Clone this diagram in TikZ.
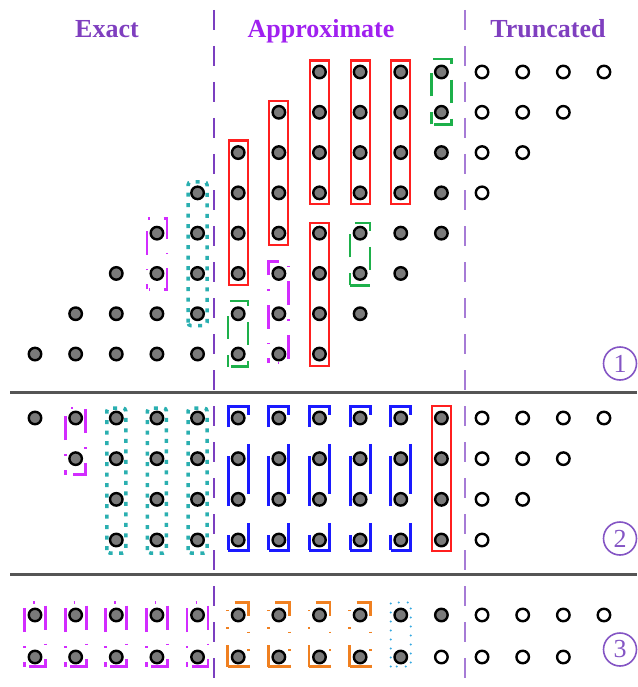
\documentclass[tikz,border=0pt]{standalone}
\usepackage{fontspec}
\setmainfont{Liberation Serif}
\usetikzlibrary{calc}
\definecolor{hdrA}{HTML}{7F3FBF}
\definecolor{hdrB}{HTML}{A020F0}
\definecolor{vlineA}{HTML}{7B3FC0}
\definecolor{vlineB}{HTML}{A67BD6}
\definecolor{sepgray}{HTML}{555555}
\definecolor{dotgray}{HTML}{7A7A7A}
\definecolor{bred}{HTML}{FF1F1F}
\definecolor{bgreen}{HTML}{1DB04A}
\definecolor{bmag}{HTML}{D22CFF}
\definecolor{bteal}{HTML}{2AAFB0}
\definecolor{bblue}{HTML}{1A1AFF}
\definecolor{borange}{HTML}{F08020}
\definecolor{bsky}{HTML}{35A8E0}
\definecolor{numpurple}{HTML}{8455C4}
\tikzset{
 gdot/.style={circle, draw=black, fill=dotgray, line width=2.4pt, minimum size=12.5pt, inner sep=0pt},
 hdot/.style={circle, draw=black, fill=white, line width=2.4pt, minimum size=12.5pt, inner sep=0pt},
 redbox/.style={draw=bred, line width=2.2pt},
 greenbox/.style={draw=bgreen, line width=2.5pt, dash pattern=on 23pt off 16pt, dash phase=11pt},
 magbox/.style={draw=bmag, line width=2.8pt, dash pattern=on 24pt off 14pt on 1.5pt off 14pt, dash phase=19pt},
 tealbox/.style={draw=bteal, line width=3.5pt, dash pattern=on 4pt off 6.5pt, rounded corners=3pt},
 bluebox/.style={draw=bblue, line width=3pt, dash pattern=on 50pt off 29pt, dash phase=35pt},
 orangebox/.style={draw=borange, line width=2.8pt, dash pattern=on 27pt off 16pt on 1.5pt off 16pt on 1.5pt off 14pt, dash phase=5pt},
 skybox/.style={draw=bsky, line width=2.4pt, line cap=round, dash pattern=on 0pt off 9pt},
 hdr/.style={font=\fontsize{26}{26}\selectfont\bfseries, anchor=base, inner sep=0pt},
 sepline/.style={draw=sepgray, line width=3pt},
 vdash/.style={line width=2.5pt, dash pattern=on 20pt off 16pt},
 cnum/.style={circle, draw=numpurple, text=numpurple, line width=1.6pt, minimum size=33pt, inner sep=0pt, font=\fontsize{26}{26}\selectfont},
}
% #1 style, #2 top node, #3 bottom node, #4 half width, #5 top pad, #6 bottom pad
\newcommand\colbox[6]{%
 \draw[#1] ($(#3.center)+(-#4,#6)$) -- ($(#2.center)+(-#4,-#5)$) -- ($(#2.center)+(#4,-#5)$) -- ($(#3.center)+(#4,#6)$) -- cycle;}
\begin{document}
\begin{tikzpicture}[x=1pt,y=-1pt]
\useasboundingbox (0,0) rectangle (637,687);
% headers
\node[hdr, text=hdrA] (hexact) at (107,38) {Exact};
\node[hdr, text=hdrB] (happrox) at (321,38) {Approximate};
\node[hdr, text=hdrA] (htrunc) at (548,38) {Truncated};
% section 1 dots
\foreach \r in {1,...,8}{
  \pgfmathtruncatemacro\cs{9-\r}
  \pgfmathtruncatemacro\ce{16-\r}
  \foreach \c in {\cs,...,\ce}{
    \pgfmathsetmacro\xx{35+(\c-1)*40.64}
    \pgfmathsetmacro\yy{72+(\r-1)*40.29}
    \ifnum\c<12
      \node[gdot] (a-\r-\c) at (\xx,\yy) {};
    \else
      \node[hdot] (a-\r-\c) at (\xx,\yy) {};
    \fi
  }
}
% section 2 dots
\foreach \r/\cs/\ce in {1/1/15,2/2/14,3/3/13,4/3/12}{
  \foreach \c in {\cs,...,\ce}{
    \pgfmathsetmacro\xx{35+(\c-1)*40.64}
    \pgfmathsetmacro\yy{418+(\r-1)*40.67}
    \ifnum\c<12
      \node[gdot] (b-\r-\c) at (\xx,\yy) {};
    \else
      \node[hdot] (b-\r-\c) at (\xx,\yy) {};
    \fi
  }
}
% section 3 dots
\foreach \r/\ce/\cg in {1/15/12,2/14/11}{
  \foreach \c in {1,...,\ce}{
    \pgfmathsetmacro\xx{35+(\c-1)*40.64}
    \pgfmathsetmacro\yy{615+(\r-1)*42}
    \ifnum\c<\cg
      \node[gdot] (c-\r-\c) at (\xx,\yy) {};
    \else
      \node[hdot] (c-\r-\c) at (\xx,\yy) {};
    \fi
  }
}
% section 1 boxes
\colbox{redbox}{a-3-6}{a-6-6}{9.5}{12}{11.5}
\colbox{redbox}{a-2-7}{a-5-7}{9.5}{11.5}{11.5}
\colbox{redbox}{a-1-8}{a-4-8}{9.5}{11.5}{11.5}
\colbox{redbox}{a-1-9}{a-4-9}{9.5}{11.5}{11.5}
\colbox{redbox}{a-1-10}{a-4-10}{9.5}{11.5}{11.5}
\colbox{redbox}{a-5-8}{a-8-8}{9.5}{10.5}{12}
\colbox{greenbox}{a-7-6}{a-8-6}{10}{12.5}{12.5}
\colbox{greenbox}{a-5-9}{a-6-9}{10}{10}{12}
\colbox{greenbox}{a-1-11}{a-2-11}{10}{13}{12}
\colbox{magbox}{a-5-4}{a-6-4}{10}{15}{16}
\colbox{magbox}{a-6-7}{a-8-7}{10}{12}{9}
\colbox{tealbox}{a-4-5}{a-7-5}{9.5}{11}{12}
% section 2 boxes
\colbox{magbox}{b-1-2}{b-2-2}{10}{10}{16}
\foreach \c in {3,4,5}{\colbox{tealbox}{b-1-\c}{b-4-\c}{9.5}{10}{13}}
\foreach \c in {6,...,10}{\colbox{bluebox}{b-1-\c}{b-4-\c}{10}{12}{10}}
\colbox{redbox}{b-1-11}{b-4-11}{9.5}{12}{11}
% section 3 boxes
\foreach \c in {1,...,5}{\colbox{magbox}{c-1-\c}{c-2-\c}{10.5}{12.5}{9.5}}
\foreach \c in {6,...,9}{\colbox{orangebox}{c-1-\c}{c-2-\c}{10.5}{12.5}{9.5}}
\colbox{skybox}{c-1-10}{c-2-10}{10}{12.5}{9.5}
% separators and dividers
\coordinate (s1l) at (10,392); \coordinate (s1r) at (637,392);
\coordinate (s2l) at (10,574); \coordinate (s2r) at (637,574);
\draw[sepline] (s1l) -- (s1r);
\draw[sepline] (s2l) -- (s2r);
\coordinate (v1t) at (214,10); \coordinate (v1b) at (214,687);
\coordinate (v2t) at (465,10); \coordinate (v2b) at (465,687);
\draw[vdash, vlineA] (v1t) -- (v1b);
\draw[vdash, vlineB] (v2t) -- (v2b);
% circled numbers
\node[cnum] (n1) at (620,363.5) {1};
\node[cnum] (n2) at (620,538.5) {2};
\node[cnum] (n3) at (620,649.5) {3};
\end{tikzpicture}
\end{document}
